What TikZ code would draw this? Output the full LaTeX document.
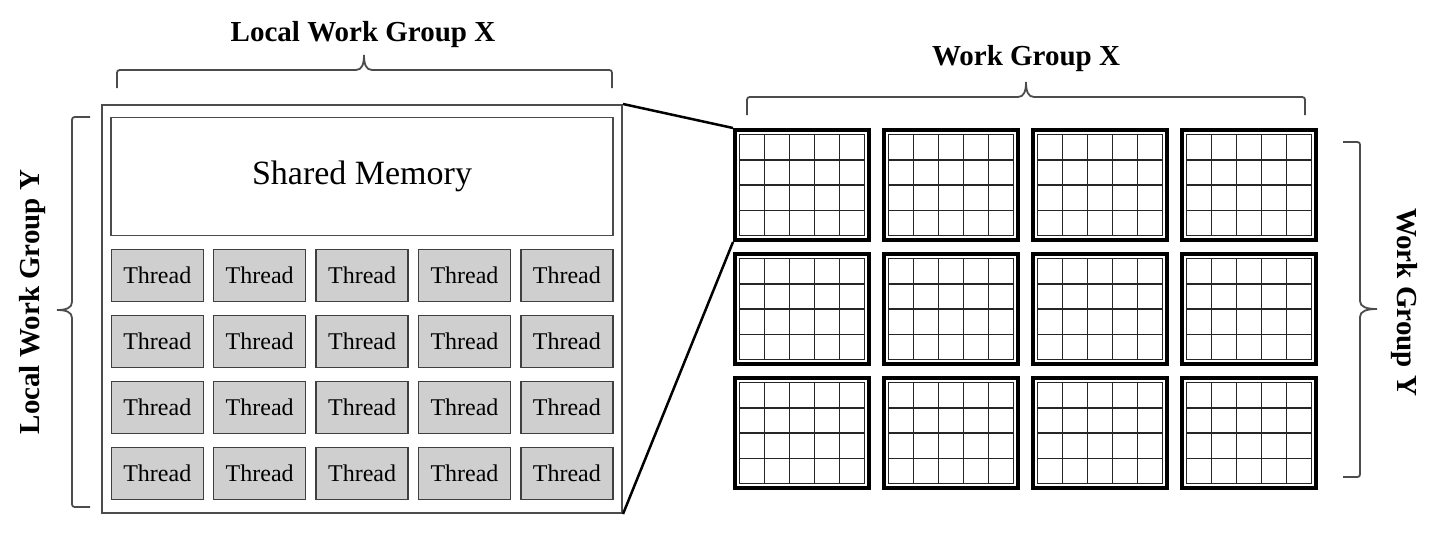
\documentclass[tikz,border=0pt]{standalone}
\usepackage{fontspec}
\setmainfont{Liberation Serif}
\newcommand\mkhbrace[6]{\draw[brace] (#1,{#4+#5}) -- (#1,{#4+#5/3}) .. controls (#1,#4) .. ({#1+abs(#5)/3},#4) -- ({#3-8},#4) .. controls ({#3-2},#4) and (#3,{#4+#6*0.4}) .. (#3,{#4+#6}) .. controls (#3,{#4+#6*0.4}) and ({#3+2},#4) .. ({#3+8},#4) -- ({#2-abs(#5)/3},#4) .. controls (#2,#4) .. (#2,{#4+#5/3}) -- (#2,{#4+#5});}
\newcommand\mkvbrace[6]{\draw[brace] ({#4+#5},#1) -- ({#4+#5/3},#1) .. controls (#4,#1) .. (#4,{#1+abs(#5)/3}) -- (#4,{#3-8}) .. controls (#4,{#3-2}) and ({#4+#6*0.4},#3) .. ({#4+#6},#3) .. controls ({#4+#6*0.4},#3) and (#4,{#3+2}) .. (#4,{#3+8}) -- (#4,{#2-abs(#5)/3}) .. controls (#4,#2) .. ({#4+#5/3},#2) -- ({#4+#5},#2);}
\begin{document}
\begin{tikzpicture}[x=1pt,y=-1pt,
  lbl/.style={font=\fontsize{29}{34}\selectfont\bfseries, inner sep=0},
  outerbox/.style={draw=black!70, line width=2pt, minimum width=520pt, minimum height=408pt, inner sep=0},
  membox/.style={draw=black!70, line width=1.5pt, minimum width=502pt, minimum height=118pt, inner sep=0, font=\fontsize{34}{40}\selectfont},
  threadbox/.style={draw=black!75, fill=black!19, line width=1.5pt, minimum width=92pt, minimum height=52pt, inner sep=0, font=\fontsize{24}{28}\selectfont},
  wgbox/.style={draw=black, line width=4pt, minimum width=134pt, minimum height=110pt, inner sep=0},
  gridline/.style={draw=black!85, line width=1.5pt},
  brace/.style={draw=black!70, line width=1.8pt},
  link/.style={draw=black, line width=2.5pt}]
\useasboundingbox (0,0) rectangle (1440,536);

% local work group
\node[outerbox] (lwg) at (362,309) {};
\node[membox] (mem) at (362,176.5) {Shared Memory};
\foreach \r in {0,...,3} {
  \foreach \c in {0,...,4} {
    \node[threadbox] (t-\r-\c) at ({157.3+102.4*\c},{275.5+66*\r}) {Thread};
  }
}

% work groups
\foreach \r in {0,1,2} {
  \foreach \c in {0,...,3} {
    \node[wgbox] (b-\r-\c) at ({802+149*\c},{185+124*\r}) {};
    \begin{scope}[shift={(b-\r-\c.center)}]
      \draw[gridline] (-62.5,-50.5) rectangle (62.5,50.5);
      \foreach \k in {1,...,4} { \draw[gridline] ({-62.5+25*\k},-50.5) -- ++(0,101); }
      \foreach \k in {1,2,3} { \draw[gridline] (-62.5,{-50.5+25.25*\k}) -- ++(125,0); }
    \end{scope}
  }
}

% connectors
\draw[link] (lwg.north east) -- (b-0-0.north west);
\draw[link] (lwg.south east) -- (b-0-0.south west);

% braces
\mkhbrace{117}{612}{364}{70}{18}{-15}
\mkhbrace{747}{1305}{1026}{97}{18}{-15}
\mkvbrace{117}{507}{310}{72}{18}{-15}
\mkvbrace{142}{477}{309}{1360}{-17}{17}

% labels
\node[lbl, anchor=base] (lx) at (363,41) {Local Work Group X};
\node[lbl, anchor=base] (wx) at (1026,65) {Work Group X};
\node[lbl, rotate=90] (ly) at (33,302) {Local Work Group Y};
\node[lbl, rotate=-90] (wy) at (1404,302) {Work Group Y};
\end{tikzpicture}
\end{document}
